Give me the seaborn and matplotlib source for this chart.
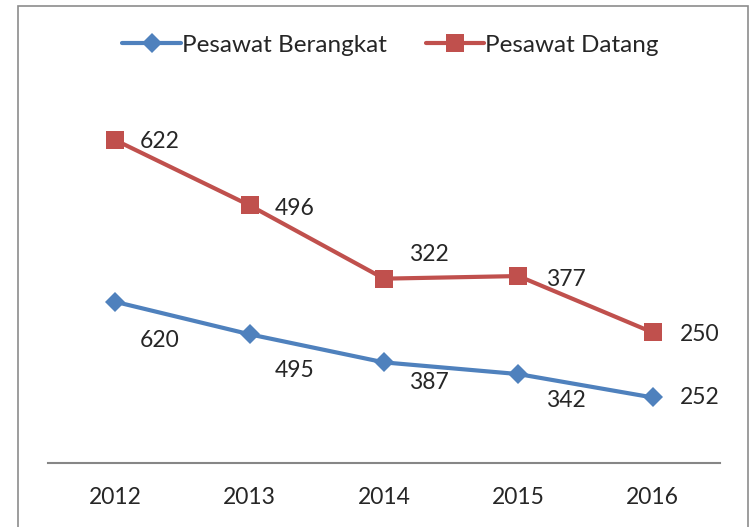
import numpy as np
import pandas as pd
import seaborn as sns
import matplotlib.pyplot as plt
from matplotlib.patches import Rectangle

years = ["2012", "2013", "2014", "2015", "2016"]
berangkat = [620, 495, 387, 342, 252]
datang = [622, 496, 322, 377, 250]

# label offsets in pixels (dx, dy) relative to each marker
off_berangkat = [(44, -39), (45, -36), (45, -20), (47, -26), (47, 0)]
off_datang = [(44, -1), (45, -3), (45, 24), (47, -3), (47, -2)]

blue = "#4F81BD"
red = "#C0504D"

sns.set_style("white")
plt.rcParams["font.family"] = ["Lato", "DejaVu Sans"]

# the chart is a stacked line chart: second series sits on top of the first
df = pd.DataFrame({"year": years, "berangkat": berangkat, "datang": datang})
df["x"] = np.arange(len(years))
df["datang_top"] = df["berangkat"] + df["datang"]

fig = plt.figure(figsize=(7.54, 5.27), dpi=100)
ax = fig.add_axes([48 / 754, 1 - 463 / 527, 672 / 754, 364 / 527])

sns.lineplot(data=df, x="x", y="berangkat", ax=ax, color=blue, linewidth=3,
             marker="D", markersize=10, markeredgewidth=0, label="Pesawat Berangkat")
sns.lineplot(data=df, x="x", y="datang_top", ax=ax, color=red, linewidth=3,
             marker="s", markersize=13, markeredgewidth=0, label="Pesawat Datang")

for i, row in df.iterrows():
    ax.annotate(str(row["berangkat"]), (row["x"], row["berangkat"]),
                xytext=off_berangkat[i], textcoords="offset pixels",
                ha="center", va="center", fontsize=16.5)
    ax.annotate(str(row["datang"]), (row["x"], row["datang_top"]),
                xytext=off_datang[i], textcoords="offset pixels",
                ha="center", va="center", fontsize=16.5)

ax.set_xlim(-0.5, len(years) - 0.5)
ax.set_ylim(0, 1400)
ax.set_xticks(df["x"])
ax.set_xticklabels(years, fontsize=16.5)
ax.tick_params(axis="x", length=0, pad=17)
ax.set_yticks([])
ax.set_xlabel("")
ax.set_ylabel("")
for s in ["top", "left", "right"]:
    ax.spines[s].set_visible(False)
ax.spines["bottom"].set_color("#868686")
ax.spines["bottom"].set_linewidth(1.5)

ax.legend_.remove()
handles, labels = ax.get_legend_handles_labels()
fig.legend(handles, labels, loc="center", bbox_to_anchor=(0.518, 1 - 45 / 527),
           ncol=2, frameon=False, fontsize=17.5, handlelength=2.4,
           handletextpad=0.05, columnspacing=1.6)

# outer chart frame
fig.patches.append(Rectangle((18 / 754, -0.02), 730 / 754, 1 - 6 / 527 + 0.02,
                             transform=fig.transFigure, fill=False,
                             edgecolor="#8c8c8c", linewidth=1.2))

fig.savefig("out.png", dpi=100)
